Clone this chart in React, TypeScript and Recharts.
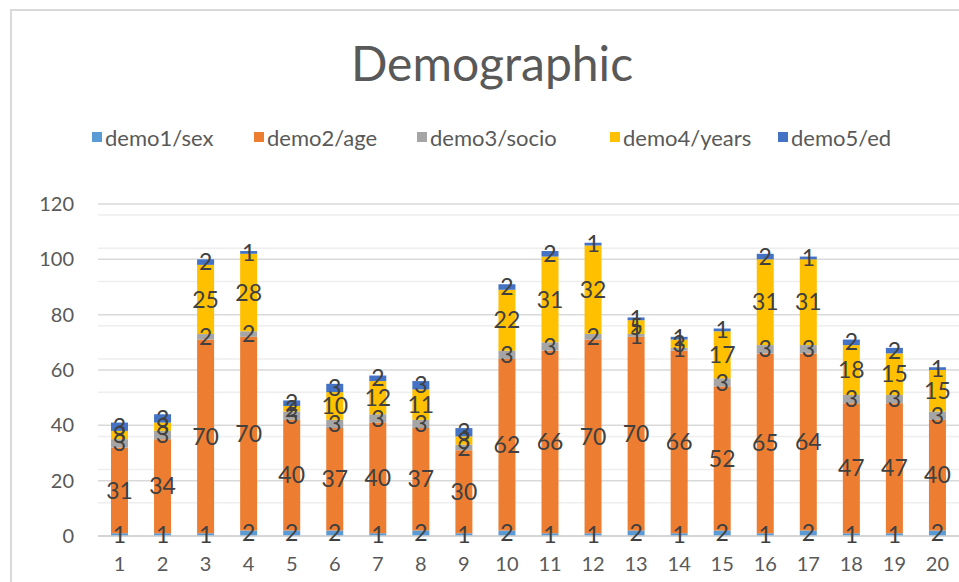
import React from 'react'
import {
  BarChart,
  Bar,
  XAxis,
  YAxis,
  CartesianGrid,
  LabelList,
} from 'recharts'

const categories = ['1', '2', '3', '4', '5', '6', '7', '8', '9', '10', '11', '12', '13', '14', '15', '16', '17', '18', '19', '20']
const sex = [1, 1, 1, 2, 2, 2, 1, 2, 1, 2, 1, 1, 2, 1, 2, 1, 2, 1, 1, 2]
const age = [31, 34, 70, 70, 40, 37, 40, 37, 30, 62, 66, 70, 70, 66, 52, 65, 64, 47, 47, 40]
const socio = [3, 3, 2, 2, 3, 3, 3, 3, 2, 3, 3, 2, 1, 1, 3, 3, 3, 3, 3, 3]
const years = [3, 3, 25, 28, 2, 10, 12, 11, 3, 22, 31, 32, 5, 3, 17, 31, 31, 18, 15, 15]
const ed = [3, 3, 2, 1, 2, 3, 2, 3, 3, 2, 2, 1, 1, 1, 1, 2, 1, 2, 2, 1]

const yTicks = [0, 20, 40, 60, 80, 100, 120]
const minorTicks = [4, 8, 12, 16, 24, 28, 32, 36, 44, 48, 52, 56, 64, 68, 72, 76, 84, 88, 92, 96, 104, 108, 112, 116]

const series = [
  { key: 'sex', name: 'demo1/sex', color: '#5B9BD5' },
  { key: 'age', name: 'demo2/age', color: '#ED7D31' },
  { key: 'socio', name: 'demo3/socio', color: '#A5A5A5' },
  { key: 'years', name: 'demo4/years', color: '#FFC000' },
  { key: 'ed', name: 'demo5/ed', color: '#4472C4' },
]

const data = categories.map((c, i) => ({
  name: c,
  sex: sex[i],
  age: age[i],
  socio: socio[i],
  years: years[i],
  ed: ed[i],
}))

const font = 'Lato, "Open Sans", sans-serif'

// x of each legend swatch
const legendX = [92, 254, 417, 610, 778]

function LegendRow() {
  return (
    <div style={{ position: 'absolute', left: 0, top: 123, width: 959, height: 30, fontFamily: font, fontSize: 22, color: '#595959' }}>
      {series.map((s, i) => (
        <div key={s.key} style={{ position: 'absolute', left: legendX[i], top: 0, display: 'flex', alignItems: 'center', whiteSpace: 'nowrap', height: 28 }}>
          <span style={{ width: 10, height: 10, background: s.color, display: 'inline-block', marginRight: 3 }} />
          <span>{s.name}</span>
        </div>
      ))}
    </div>
  )
}

export default function App() {
  return (
    <div style={{ position: 'absolute', left: 0, top: 0, width: 959, height: 582, overflow: 'hidden', background: '#fff' }}>
      <div style={{ position: 'absolute', left: 10, top: 9, width: 980, height: 600, border: '2px solid #d9d9d9', boxSizing: 'border-box' }} />
      <div style={{ position: 'absolute', left: 0, width: 984, top: 33, textAlign: 'center', fontFamily: font, fontSize: 48, color: '#595959', lineHeight: '60px' }}>
        Demographic
      </div>
      <LegendRow />
      <div style={{ position: 'absolute', left: 0, top: 0 }}>
        <BarChart
          width={959}
          height={582}
          data={data}
          margin={{ top: 204, right: 0, bottom: 0, left: 0 }}
          barSize={17}
        >
          <CartesianGrid vertical={false} stroke="#eeeeee" strokeWidth={1.5} horizontalValues={minorTicks} />
          <CartesianGrid vertical={false} stroke="#d9d9d9" strokeWidth={1.5} horizontalValues={yTicks} />
          <XAxis
            dataKey="name"
            height={46}
            tickLine={false}
            axisLine={{ stroke: '#d0d0d0', strokeWidth: 1.5 }}
            tick={{ fill: '#595959', fontSize: 20, fontFamily: font }}
            tickMargin={15}
            interval={0}
          />
          <YAxis
            width={98}
            domain={[0, 120]}
            ticks={yTicks}
            tickLine={false}
            axisLine={false}
            tick={{ fill: '#595959', fontSize: 20, fontFamily: font }}
            tickMargin={18}
          />
          {series.map((s) => (
            <Bar key={s.key} dataKey={s.key} name={s.name} stackId="a" fill={s.color} isAnimationActive={false}>
              <LabelList dataKey={s.key} position="center" fill="#404040" fontSize={23} fontFamily={font} />
            </Bar>
          ))}
        </BarChart>
      </div>
    </div>
  )
}
